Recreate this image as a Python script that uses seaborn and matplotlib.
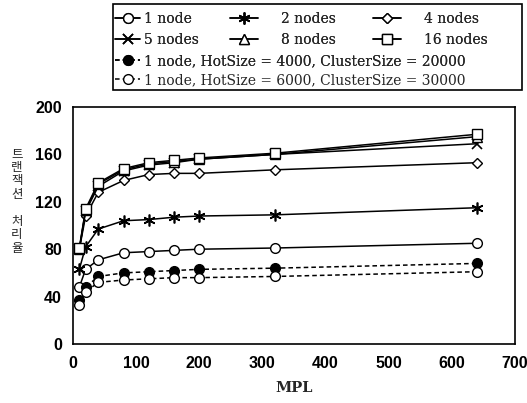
import matplotlib
matplotlib.use("Agg")
import matplotlib.pyplot as plt
import seaborn as sns
import pandas as pd
from matplotlib.patches import Rectangle

sns.set_style("white")

mpl_values = [10, 20, 40, 80, 120, 160, 200, 320, 640]
node1 = [48, 63, 71, 77, 78, 79, 80, 81, 85]
node2 = [63, 82, 97, 104, 105, 107, 108, 109, 115]
node4 = [80, 108, 128, 138, 143, 144, 144, 147, 153]
node5 = [80, 112, 133, 146, 151, 153, 156, 160, 169]
node8 = [80, 113, 135, 147, 152, 154, 156, 160, 175]
node16 = [81, 114, 136, 148, 153, 155, 157, 161, 177]
hot4000 = [37, 48, 57, 60, 61, 62, 63, 64, 68]
hot6000 = [33, 44, 52, 54, 55, 56, 56, 57, 61]

labels = ["1 node", "2 nodes", "4 nodes", "5 nodes", "8 nodes", "16 nodes",
          "1 node, HotSize = 4000, ClusterSize = 20000",
          "1 node, HotSize = 6000, ClusterSize = 30000"]
series = [node1, node2, node4, node5, node8, node16, hot4000, hot6000]

styles = [
    dict(marker="o", mfc="white", ms=7, ls="-"),
    dict(marker=(6, 2, 0), mfc="black", ms=8.5, ls="-", mew=1.2),
    dict(marker="D", mfc="white", ms=5.5, ls="-"),
    dict(marker="x", mfc="black", ms=7, ls="-", mew=1.2),
    dict(marker="^", mfc="white", ms=7, ls="-"),
    dict(marker="s", mfc="white", ms=6.5, ls="-"),
    dict(marker="o", mfc="black", ms=7, ls=(0, (3, 2))),
    dict(marker="o", mfc="white", ms=7, ls=(0, (3, 2))),
]

fig = plt.figure(figsize=(5.27, 4.03), dpi=100)
ax = fig.add_axes([73/527, 1-344/403, (515-73)/527, (344-107)/403])

for lab, vals, st in zip(labels, series, styles):
    df = pd.DataFrame({"MPL": mpl_values, "v": vals})
    sns.lineplot(data=df, x="MPL", y="v", ax=ax, color="black", lw=1.1,
                 marker=st["marker"], markersize=st["ms"],
                 markerfacecolor=st["mfc"], markeredgecolor="black",
                 markeredgewidth=st.get("mew", 1.0), linestyle=st["ls"],
                 label=lab, legend=False)
lines = ax.get_lines()

ax.set_xlim(0, 700)
ax.set_ylim(0, 200)
ax.set_xticks(range(0, 701, 100))
ax.set_yticks(range(0, 201, 40))
for sp in ax.spines.values():
    sp.set_color("black")
    sp.set_linewidth(1.2)
ax.tick_params(axis="x", direction="in", length=3, width=0.8, colors="black",
               labelsize=11.5, pad=9)
ax.tick_params(axis="y", direction="in", length=3, width=0.8, colors="black",
               labelsize=11.5, pad=8)
for t in ax.get_xticklabels() + ax.get_yticklabels():
    t.set_fontfamily("Liberation Sans")
    t.set_fontweight("bold")
ax.set_xlabel("MPL", fontfamily="DejaVu Serif", fontweight="bold", fontsize=10.5, labelpad=7)
ax.set_ylabel("")

fig.text(17/527, 1-201/403, "트\n랜\n잭\n션\n\n처\n리\n율", fontfamily="Noto Sans CJK KR",
         fontsize=9, ha="center", va="center", linespacing=1.05)

# legend entries placed individually: (handle start x, center y, handlelength, textpad)
positions = {0: (115, 19, 1.8, 0.3), 1: (230, 19, 2.0, 1.7), 2: (373, 19, 2.0, 1.65),
             3: (115, 40, 1.8, 0.3), 4: (230, 40, 2.0, 1.7), 5: (373, 40, 2.0, 1.65),
             6: (115, 61, 1.8, 0.3), 7: (115, 80, 1.8, 0.3)}
legs = []
for i, (px, py, hl, tp) in positions.items():
    leg = fig.legend([lines[i]], [labels[i]], loc="center left",
                     bbox_to_anchor=(px/527, 1-py/403), frameon=False,
                     prop={"family": "DejaVu Serif", "size": 10},
                     handlelength=hl, handletextpad=tp,
                     borderaxespad=0, borderpad=0)
    legs.append(leg)
for leg in legs[:-1]:
    fig.add_artist(leg)
fig.patches.append(Rectangle((113/527, 1-90/403), (522-113)/527, (90-4)/403,
                             transform=fig.transFigure, fill=False,
                             edgecolor="black", lw=1.2))

fig.savefig("out.png", dpi=100)
